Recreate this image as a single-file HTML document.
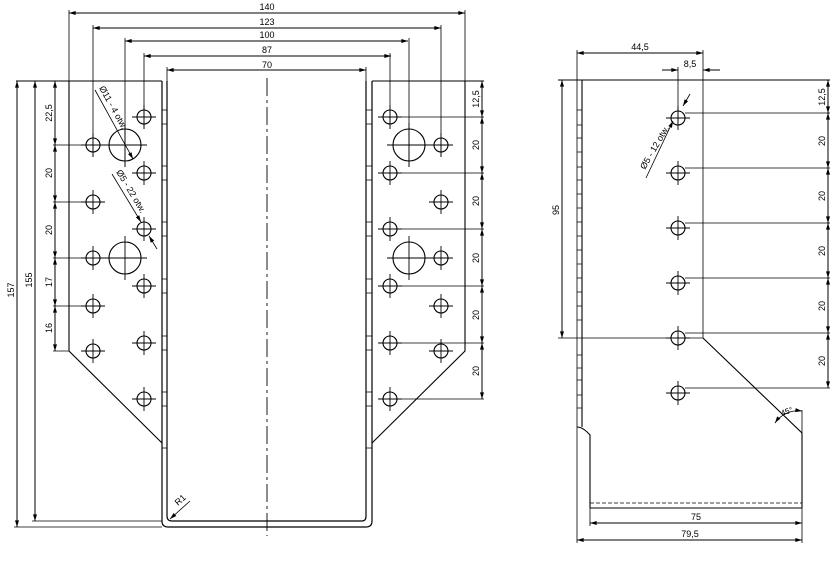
<!DOCTYPE html>
<html><head><meta charset="utf-8"><style>
html,body{margin:0;padding:0;background:#fff;}
svg{display:block;}
text{font-family:"Liberation Sans",sans-serif;font-size:9px;fill:#000;}
</style></head><body>
<svg width="840" height="574" viewBox="0 0 840 574" xmlns="http://www.w3.org/2000/svg">
<defs>
<marker id="a" viewBox="0 0 10 6" refX="10" refY="3" markerWidth="8" markerHeight="4" markerUnits="userSpaceOnUse" orient="auto-start-reverse"><path d="M0,0 L10,3 L0,6 Z" fill="#000"/></marker>
<g id="h"><circle r="7" fill="none" stroke="#000" stroke-width="1.1"/><path d="M-12,0H12M0,-12V12" stroke="#000" stroke-width="0.9"/></g>
<g id="H"><circle r="16" fill="none" stroke="#000" stroke-width="1.1"/><path d="M-22,0H22M0,-22V22" stroke="#000" stroke-width="0.9"/></g>
</defs>
<g stroke="#000" stroke-width="1" fill="none">
<line x1="69" y1="13" x2="465" y2="13" marker-start="url(#a)" marker-end="url(#a)"/>
<line x1="93" y1="28" x2="441" y2="28" marker-start="url(#a)" marker-end="url(#a)"/>
<line x1="125" y1="41" x2="408" y2="41" marker-start="url(#a)" marker-end="url(#a)"/>
<line x1="144" y1="56" x2="391" y2="56" marker-start="url(#a)" marker-end="url(#a)"/>
<line x1="167" y1="70" x2="366" y2="70" marker-start="url(#a)" marker-end="url(#a)"/>
<path d="M69,10V351 M465,10V351 M93,25V157 M441,25V157 M125,38V167 M409,38V167 M144,53V129 M390,53V129 M167,67V81 M366,67V81" stroke-width="0.8"/>
<path d="M16,81H162 M372,81H484"/>
<path d="M162,81V521 Q162,527 168,527 H366 Q372,527 372,521 V81" stroke-width="1.2"/>
<path d="M167,81V516 Q167,521 172,521 H362 Q366,521 366,516 V81" stroke-width="1.2"/>
<path d="M69,81V351 L162,443 M465,81V351 L372,443" stroke-width="1.1"/>
<line x1="267" y1="78" x2="267" y2="536" stroke-dasharray="18,4,3,4" stroke-width="0.9"/>
<path d="M162,110H167M162,124H167M162,166H167M162,180H167M162,222H167M162,236H167M162,279H167M162,293H167M162,336H167M162,350H167M162,392H167M162,406H167M162,448H167M366,110H372M366,124H372M366,166H372M366,180H372M366,222H372M366,236H372M366,279H372M366,293H372M366,336H372M366,350H372M366,392H372M366,406H372M366,448H372" stroke-width="0.8"/>
<line x1="17" y1="81" x2="17" y2="527" marker-start="url(#a)" marker-end="url(#a)"/>
<line x1="35" y1="81" x2="35" y2="521" marker-start="url(#a)" marker-end="url(#a)"/>
<path d="M14,527H162 M32,521H162" stroke-width="0.8"/>
<line x1="55" y1="81" x2="55" y2="145" marker-start="url(#a)" marker-end="url(#a)"/>
<line x1="55" y1="145" x2="55" y2="202" marker-start="url(#a)" marker-end="url(#a)"/>
<line x1="55" y1="202" x2="55" y2="258" marker-start="url(#a)" marker-end="url(#a)"/>
<line x1="55" y1="258" x2="55" y2="306" marker-start="url(#a)" marker-end="url(#a)"/>
<line x1="55" y1="306" x2="55" y2="351" marker-start="url(#a)" marker-end="url(#a)"/>
<path d="M53,145H81 M53,202H81 M53,258H81 M53,306H81 M53,351H69" stroke-width="0.8"/>
<line x1="482" y1="81" x2="482" y2="117" marker-start="url(#a)" marker-end="url(#a)"/>
<line x1="482" y1="117" x2="482" y2="173" marker-start="url(#a)" marker-end="url(#a)"/>
<line x1="482" y1="173" x2="482" y2="229" marker-start="url(#a)" marker-end="url(#a)"/>
<line x1="482" y1="229" x2="482" y2="286" marker-start="url(#a)" marker-end="url(#a)"/>
<line x1="482" y1="286" x2="482" y2="343" marker-start="url(#a)" marker-end="url(#a)"/>
<line x1="482" y1="343" x2="482" y2="399" marker-start="url(#a)" marker-end="url(#a)"/>
<path d="M397,117H484 M397,173H484 M397,229H484 M397,286H484 M397,343H484 M397,399H484" stroke-width="0.8"/>
<line x1="95" y1="90" x2="133" y2="159" marker-end="url(#a)" stroke-width="0.8"/>
<line x1="112" y1="174" x2="141" y2="222" marker-end="url(#a)" stroke-width="0.8"/>
<line x1="157" y1="249" x2="149" y2="236" marker-end="url(#a)" stroke-width="0.8"/>
<line x1="190" y1="501" x2="170" y2="519" marker-end="url(#a)" stroke-width="0.8"/>

<line x1="577" y1="53" x2="703" y2="53" marker-start="url(#a)" marker-end="url(#a)"/>
<line x1="662" y1="70" x2="678" y2="70" marker-end="url(#a)"/>
<line x1="720" y1="70" x2="703" y2="70" marker-end="url(#a)"/>
<path d="M577,50V543 M703,50V338 M678,67V125" stroke-width="0.8"/>
<path d="M558,80H830" stroke-width="1"/>
<path d="M582,80V427 M577,427 Q583,427 590,435 V508 M703,338 L802,433 V508 M590,508H802" stroke-width="1.1"/>
<line x1="590" y1="503" x2="802" y2="503" stroke-dasharray="4,2" stroke-width="0.8"/>
<path d="M577,110H582M577,125H582M577,138H582M577,152H582M577,167H582M577,180H582M577,194H582M577,208H582M577,222H582M577,236H582M577,250H582M577,264H582M577,278H582M577,292H582M577,306H582M577,320H582M577,355H582M577,368H582M577,380H582M577,395H582M577,408H582" stroke-width="0.7"/>
<line x1="562" y1="80" x2="562" y2="338" marker-start="url(#a)" marker-end="url(#a)"/>
<path d="M558,338H703" stroke-width="0.8"/>
<line x1="828" y1="80" x2="828" y2="113" marker-start="url(#a)" marker-end="url(#a)"/>
<line x1="828" y1="113" x2="828" y2="168" marker-start="url(#a)" marker-end="url(#a)"/>
<line x1="828" y1="168" x2="828" y2="223" marker-start="url(#a)" marker-end="url(#a)"/>
<line x1="828" y1="223" x2="828" y2="278" marker-start="url(#a)" marker-end="url(#a)"/>
<line x1="828" y1="278" x2="828" y2="333" marker-start="url(#a)" marker-end="url(#a)"/>
<line x1="828" y1="333" x2="828" y2="388" marker-start="url(#a)" marker-end="url(#a)"/>
<path d="M685,113H830 M685,168H830 M685,223H830 M685,278H830 M685,333H830 M685,388H830" stroke-width="0.8"/>
<line x1="590" y1="523" x2="802" y2="523" marker-start="url(#a)" marker-end="url(#a)"/>
<line x1="577" y1="540" x2="802" y2="540" marker-start="url(#a)" marker-end="url(#a)"/>
<path d="M590,508V526 M802,410V543" stroke-width="0.8"/>
<path d="M775,423 A28,28 0 0 1 802,411" marker-start="url(#a)" marker-end="url(#a)" stroke-width="0.8"/>
<line x1="646" y1="178" x2="673" y2="121" marker-end="url(#a)" stroke-width="0.8"/>
<line x1="690" y1="94" x2="683" y2="106" marker-end="url(#a)" stroke-width="0.8"/>
</g>
<use href="#h" x="93" y="145"/><use href="#h" x="93" y="202"/><use href="#h" x="93" y="258"/><use href="#h" x="93" y="306"/><use href="#h" x="93" y="351"/>
<use href="#h" x="144" y="117"/><use href="#h" x="144" y="173"/><use href="#h" x="144" y="229"/><use href="#h" x="144" y="286"/><use href="#h" x="144" y="343"/><use href="#h" x="144" y="399"/>
<use href="#h" x="390" y="117"/><use href="#h" x="390" y="173"/><use href="#h" x="390" y="229"/><use href="#h" x="390" y="286"/><use href="#h" x="390" y="343"/><use href="#h" x="390" y="399"/>
<use href="#h" x="441" y="145"/><use href="#h" x="441" y="202"/><use href="#h" x="441" y="258"/><use href="#h" x="441" y="306"/><use href="#h" x="441" y="351"/>
<use href="#H" x="125" y="145"/><use href="#H" x="125" y="258"/><use href="#H" x="409" y="145"/><use href="#H" x="409" y="258"/>
<use href="#h" x="678" y="118"/><use href="#h" x="678" y="173"/><use href="#h" x="678" y="228"/><use href="#h" x="678" y="283"/><use href="#h" x="678" y="338"/><use href="#h" x="678" y="393"/>
<text x="267" y="10" text-anchor="middle">140</text>
<text x="267" y="25" text-anchor="middle">123</text>
<text x="267" y="38" text-anchor="middle">100</text>
<text x="267" y="53" text-anchor="middle">87</text>
<text x="267" y="68" text-anchor="middle">70</text>
<text transform="translate(14,290) rotate(-90)" text-anchor="middle">157</text>
<text transform="translate(32,280) rotate(-90)" text-anchor="middle">155</text>
<text transform="translate(52,113) rotate(-90)" text-anchor="middle">22,5</text>
<text transform="translate(52,173) rotate(-90)" text-anchor="middle">20</text>
<text transform="translate(52,230) rotate(-90)" text-anchor="middle">20</text>
<text transform="translate(52,282) rotate(-90)" text-anchor="middle">17</text>
<text transform="translate(52,328) rotate(-90)" text-anchor="middle">16</text>
<text transform="translate(479,99) rotate(-90)" text-anchor="middle">12,5</text>
<text transform="translate(479,145) rotate(-90)" text-anchor="middle">20</text>
<text transform="translate(479,201) rotate(-90)" text-anchor="middle">20</text>
<text transform="translate(479,258) rotate(-90)" text-anchor="middle">20</text>
<text transform="translate(479,315) rotate(-90)" text-anchor="middle">20</text>
<text transform="translate(479,371) rotate(-90)" text-anchor="middle">20</text>
<text transform="translate(99,88) rotate(61)">Ø11 - 4 otw.</text>
<text transform="translate(116,172) rotate(59)">Ø5 - 22 otw.</text>
<text transform="translate(178,506) rotate(-42)">R1</text>
<text x="640" y="50" text-anchor="middle">44,5</text>
<text x="690" y="67" text-anchor="middle">8,5</text>
<text transform="translate(559,210) rotate(-90)" text-anchor="middle">95</text>
<text transform="translate(825,97) rotate(-90)" text-anchor="middle">12,5</text>
<text transform="translate(825,141) rotate(-90)" text-anchor="middle">20</text>
<text transform="translate(825,196) rotate(-90)" text-anchor="middle">20</text>
<text transform="translate(825,251) rotate(-90)" text-anchor="middle">20</text>
<text transform="translate(825,306) rotate(-90)" text-anchor="middle">20</text>
<text transform="translate(825,361) rotate(-90)" text-anchor="middle">20</text>
<text x="696" y="520" text-anchor="middle">75</text>
<text x="690" y="537" text-anchor="middle">79,5</text>
<text transform="translate(645,170) rotate(-60)">Ø5 - 12 otw.</text>
<text transform="translate(782,416) rotate(-20)" style="font-size:8px">45°</text>
</svg>
</body></html>
